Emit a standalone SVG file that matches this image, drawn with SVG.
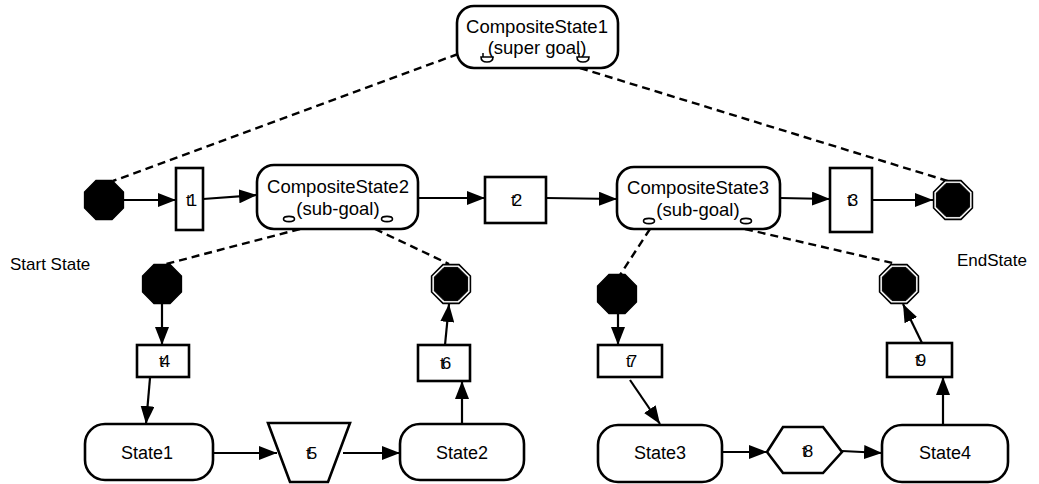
<svg xmlns="http://www.w3.org/2000/svg" width="1039" height="484" viewBox="0 0 1039 484">
  <style>
    text { font-family: "Liberation Sans", Arial, sans-serif; font-size: 18px; fill: #000; }
    .lbl { text-anchor: middle; }
    .cs { text-anchor: middle; font-size: 18.5px; }
    .tl { text-anchor: middle; letter-spacing: -3px; font-size: 17px; }
    .note { font-size: 17px; }
    .box { fill: #fff; stroke: #000; stroke-width: 2.6; }
    .edge { fill: none; stroke: #000; stroke-width: 2.2; }
    .dash { fill: none; stroke: #000; stroke-width: 2.4; stroke-dasharray: 8 5; }
    .mark { fill: #fff; stroke: #000; stroke-width: 1.6; }
  </style>
  <defs>
    <marker id="arr" viewBox="0 0 18 14" refX="18" refY="7" markerWidth="18" markerHeight="14" markerUnits="userSpaceOnUse" orient="auto">
      <path d="M0,0 L18,7 L0,14 Z" fill="#000"/>
    </marker>
    <polygon id="oct" points="19.4,8 8,19.4 -8,19.4 -19.4,8 -19.4,-8 -8,-19.4 8,-19.4 19.4,-8"/>
    <polygon id="octIn" points="16.6,6.9 6.9,16.6 -6.9,16.6 -16.6,6.9 -16.6,-6.9 -6.9,-16.6 6.9,-16.6 16.6,-6.9"/>
    <g id="startDot">
      <use href="#oct" fill="#000" stroke="#000" stroke-width="1.5"/>
    </g>
    <g id="endDot">
      <use href="#oct" fill="#fff" stroke="#000" stroke-width="1.6"/>
      <use href="#octIn" fill="#000" stroke="#000" stroke-width="1"/>
    </g>
    <g id="bowl">
      <path class="mark" d="M-6,0 H6 Q6,5 0,5 Q-6,5 -6,0 Z"/>
      <path d="M-4,0 V-4" stroke="#000" stroke-width="1.5"/>
    </g>
    <ellipse id="pill" class="mark" rx="5.5" ry="2.6"/>
  </defs>

  <!-- connectors -->
  <g id="connectors">
    <!-- decomposition links -->
    <line class="dash" x1="458" y1="54" x2="113" y2="181"/>
    <line class="dash" x1="580" y1="68" x2="951" y2="182"/>
    <line class="dash" x1="300" y1="229" x2="166" y2="264"/>
    <line class="dash" x1="375" y1="229" x2="449" y2="264"/>
    <line class="dash" x1="650" y1="229" x2="620" y2="275"/>
    <line class="dash" x1="745" y1="229" x2="897" y2="264"/>
    <!-- top level flow -->
    <line class="edge" x1="124" y1="200" x2="176" y2="200" marker-end="url(#arr)"/>
    <line class="edge" x1="203" y1="199" x2="257" y2="195" marker-end="url(#arr)"/>
    <line class="edge" x1="418" y1="198" x2="485" y2="198" marker-end="url(#arr)"/>
    <line class="edge" x1="546" y1="198" x2="617" y2="199" marker-end="url(#arr)"/>
    <line class="edge" x1="780" y1="198" x2="830" y2="199" marker-end="url(#arr)"/>
    <line class="edge" x1="872" y1="200" x2="933" y2="200" marker-end="url(#arr)"/>
    <!-- sub-goal 1 -->
    <line class="edge" x1="162" y1="304" x2="162" y2="345" marker-end="url(#arr)"/>
    <line class="edge" x1="150" y1="378" x2="146" y2="424" marker-end="url(#arr)"/>
    <line class="edge" x1="213" y1="453" x2="277" y2="453" marker-end="url(#arr)"/>
    <line class="edge" x1="343" y1="453" x2="400" y2="453" marker-end="url(#arr)"/>
    <line class="edge" x1="462" y1="424" x2="462" y2="381" marker-end="url(#arr)"/>
    <line class="edge" x1="445" y1="345" x2="449" y2="304" marker-end="url(#arr)"/>
    <!-- sub-goal 2 -->
    <line class="edge" x1="618" y1="313" x2="618" y2="345" marker-end="url(#arr)"/>
    <line class="edge" x1="630" y1="380" x2="660" y2="424" marker-end="url(#arr)"/>
    <line class="edge" x1="722" y1="452" x2="767" y2="452" marker-end="url(#arr)"/>
    <line class="edge" x1="842" y1="451" x2="882" y2="453" marker-end="url(#arr)"/>
    <line class="edge" x1="943" y1="424" x2="943" y2="377" marker-end="url(#arr)"/>
    <line class="edge" x1="922" y1="343" x2="903" y2="304" marker-end="url(#arr)"/>
  </g>

  <!-- super goal -->
  <g id="CompositeState1">
    <rect class="box" x="457" y="6" width="161" height="62" rx="17"/>
    <text class="cs" x="537" y="33">CompositeState1</text>
    <text class="cs" x="537" y="54">(super goal)</text>
    <use href="#bowl" x="487" y="57"/>
    <use href="#bowl" x="583" y="57"/>
  </g>

  <!-- top level -->
  <g id="StartState"><use href="#startDot" x="104" y="200"/></g>
  <g id="StartStateLabel"><text class="note" x="10" y="270">Start State</text></g>
  <g id="t1">
    <rect class="box" x="176" y="168" width="27" height="62"/>
    <text class="tl" x="190" y="206">t1</text>
  </g>
  <g id="CompositeState2">
    <rect class="box" x="257" y="165" width="161" height="64" rx="17"/>
    <text class="cs" x="338" y="193">CompositeState2</text>
    <text class="cs" x="338" y="215">(sub-goal)</text>
    <use href="#pill" x="289" y="219"/>
    <use href="#pill" x="387" y="219"/>
  </g>
  <g id="t2">
    <rect class="box" x="485" y="177" width="61" height="46"/>
    <text class="tl" x="515" y="206">t2</text>
  </g>
  <g id="CompositeState3">
    <rect class="box" x="617" y="167" width="163" height="62" rx="17"/>
    <text class="cs" x="698" y="194">CompositeState3</text>
    <text class="cs" x="698" y="216">(sub-goal)</text>
    <use href="#pill" x="649" y="221"/>
    <use href="#pill" x="746" y="221"/>
  </g>
  <g id="t3">
    <rect class="box" x="830" y="168" width="42" height="64"/>
    <text class="tl" x="851" y="206">t3</text>
  </g>
  <g id="EndState"><use href="#endDot" x="953" y="200"/></g>
  <g id="EndStateLabel"><text class="note" x="957" y="266">EndState</text></g>

  <!-- sub-goal 1 -->
  <g id="Start2"><use href="#startDot" x="162" y="284"/></g>
  <g id="t4">
    <rect class="box" x="137" y="345" width="52" height="32"/>
    <text class="tl" x="163" y="367">t4</text>
  </g>
  <g id="State1">
    <rect class="box" x="85" y="424" width="128" height="56" rx="20"/>
    <text class="lbl" x="147" y="459">State1</text>
  </g>
  <g id="t5">
    <polygon class="box" points="268,423 350,423 328,482 290,482"/>
    <text class="tl" x="310" y="459">t5</text>
  </g>
  <g id="State2">
    <rect class="box" x="400" y="424" width="124" height="56" rx="20"/>
    <text class="lbl" x="462" y="459">State2</text>
  </g>
  <g id="t6">
    <rect class="box" x="418" y="345" width="52" height="36"/>
    <text class="tl" x="444" y="369">t6</text>
  </g>
  <g id="End2"><use href="#endDot" x="451" y="284"/></g>

  <!-- sub-goal 2 -->
  <g id="Start3"><use href="#startDot" x="617" y="294"/></g>
  <g id="t7">
    <rect class="box" x="598" y="345" width="64" height="32"/>
    <text class="tl" x="630" y="367">t7</text>
  </g>
  <g id="State3">
    <rect class="box" x="598" y="425" width="124" height="57" rx="20"/>
    <text class="lbl" x="660" y="459">State3</text>
  </g>
  <g id="t8">
    <polygon class="box" points="767,452 783,427 823,427 842,452 823,473 783,473"/>
    <text class="tl" x="806" y="457">t8</text>
  </g>
  <g id="State4">
    <rect class="box" x="882" y="425" width="126" height="57" rx="20"/>
    <text class="lbl" x="945" y="459">State4</text>
  </g>
  <g id="t9">
    <rect class="box" x="887" y="343" width="65" height="34"/>
    <text class="tl" x="919" y="366">t9</text>
  </g>
  <g id="End4"><use href="#endDot" x="899" y="284"/></g>
</svg>
